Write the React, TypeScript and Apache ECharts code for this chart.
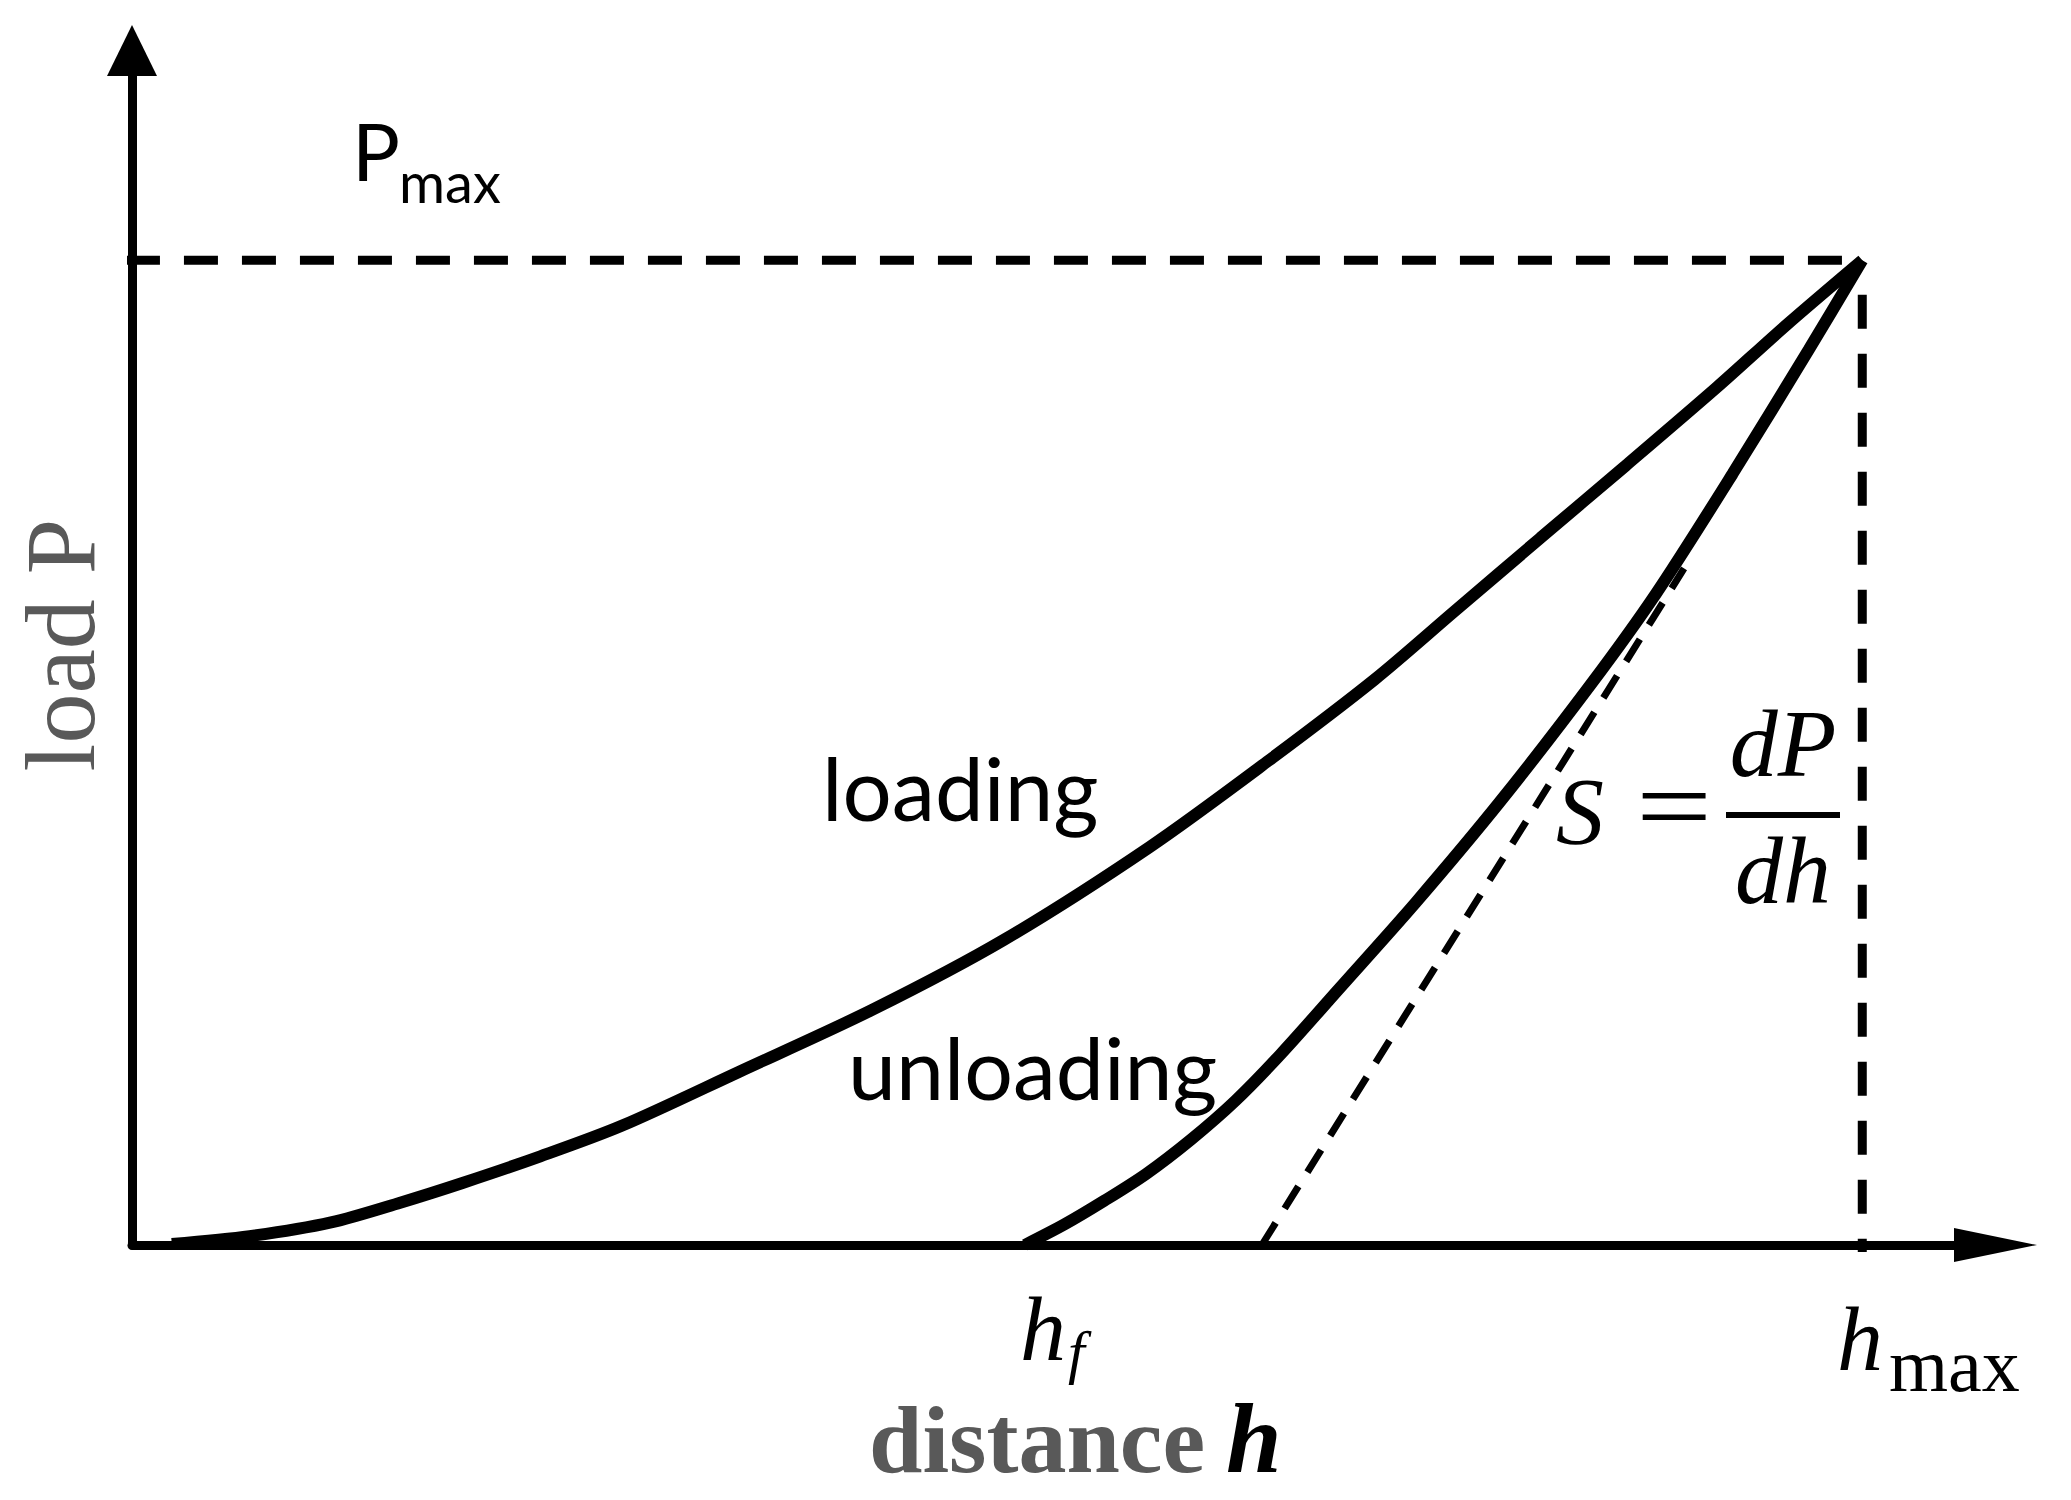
import React, { useEffect, useRef } from "react";
import * as echarts from "echarts";

// distance h (h_max = 100) and load P (P_max = 100)
const loadingH = [2.3, 6.8, 11.5, 15.5, 19.1, 23.6, 28.3, 35.1, 42.8, 50.4, 58.8, 65.7, 71.8, 76.4, 81.4, 86.3, 91.6, 95.6, 100];
const loadingP = [0.1, 0.9, 2.3, 4.3, 6.3, 9.0, 12.1, 17.6, 23.9, 31.0, 40.4, 49.2, 57.4, 64.3, 71.8, 79.1, 87.1, 93.4, 100];
const unloadingH = [51.6, 53.9, 56.2, 58.6, 61.2, 63.8, 66.4, 69.7, 74.2, 79.1, 84.3, 88.1, 92.5, 96.9, 100];
const unloadingP = [0, 2.1, 4.5, 7.2, 10.7, 14.7, 19.4, 25.9, 34.8, 45.1, 56.9, 66.2, 78.3, 90.9, 100];
const tangentH = [65.3, 89.7];
const tangentP = [0, 68.7];
const hMax = 100;
const pMax = 100;
const xAxisMax = 107.7;
const yAxisMax = 121.3;

const zip = (a: number[], b: number[]) => a.map((v, i) => [v, b[i]]);

export default function App() {
  const ref = useRef<HTMLDivElement>(null);
  useEffect(() => {
    if (!ref.current) return;
    const chart = echarts.init(ref.current, undefined, { renderer: "svg" });
    const black = "#000000";
    const grey = "#595959";
    const serif = "Liberation Serif";
    const sans = "Lato";
    const option: any = {
      animation: false,
      backgroundColor: "#ffffff",
      grid: { left: 132, right: 75.5, top: 50.5, bottom: 255 },
      xAxis: {
        type: "value",
        min: 0,
        max: xAxisMax,
        axisLine: {
          show: true,
          onZero: false,
          lineStyle: { color: black, width: 9 },
          symbol: ["none", "triangle"],
          symbolSize: [34, 83],
        },
        axisTick: { show: false },
        axisLabel: { show: false },
        splitLine: { show: false },
      },
      yAxis: {
        type: "value",
        min: 0,
        max: yAxisMax,
        axisLine: {
          show: true,
          onZero: false,
          lineStyle: { color: black, width: 9 },
          symbol: ["none", "triangle"],
          symbolSize: [50, 51],
        },
        axisTick: { show: false },
        axisLabel: { show: false },
        splitLine: { show: false },
      },
      series: [
        {
          name: "loading",
          type: "line",
          data: zip(loadingH, loadingP),
          symbol: "none",
          smooth: 0.3,
          clip: false,
          lineStyle: { color: black, width: 12 },
        },
        {
          name: "unloading",
          type: "line",
          data: zip(unloadingH, unloadingP),
          symbol: "none",
          smooth: 0.3,
          clip: false,
          lineStyle: { color: black, width: 12 },
        },
        {
          name: "tangent",
          type: "line",
          data: zip(tangentH, tangentP),
          symbol: "none",
          clip: false,
          lineStyle: { color: black, width: 7, type: [26, 17] },
        },
        {
          name: "Pmax",
          type: "line",
          data: [[-0.35, pMax], [hMax, pMax]],
          symbol: "none",
          clip: false,
          lineStyle: { color: black, width: 9, type: [34, 24] },
        },
        {
          name: "hmax",
          type: "line",
          data: [[hMax, 96.5], [hMax, -0.7]],
          symbol: "none",
          clip: false,
          lineStyle: { color: black, width: 9, type: [34, 25] },
        },
      ],
      graphic: {
        elements: [
          { type: "text", x: 352, y: 150, style: { text: "P", fontFamily: sans, fontSize: 80, fill: black, align: "left", verticalAlign: "middle" } },
          { type: "text", x: 399, y: 181, style: { text: "max", fontFamily: sans, fontSize: 56, fill: black, align: "left", verticalAlign: "middle" } },
          { type: "text", x: 822, y: 787, style: { text: "loading", fontFamily: sans, fontSize: 87, fill: black, align: "left", verticalAlign: "middle" } },
          { type: "text", x: 848, y: 1066, style: { text: "unloading", fontFamily: sans, fontSize: 86, fill: black, align: "left", verticalAlign: "middle" } },
          { type: "text", x: 60, y: 645, rotation: Math.PI / 2, style: { text: "load P", fontFamily: serif, fontSize: 100, fill: grey, align: "center", verticalAlign: "middle" } },
          { type: "text", x: 869, y: 1439, style: { text: "distance", fontFamily: serif, fontSize: 96, fontWeight: "bold", fill: grey, align: "left", verticalAlign: "middle" } },
          { type: "text", x: 1226, y: 1438, style: { text: "h", fontFamily: serif, fontSize: 100, fontWeight: "bold", fontStyle: "italic", fill: black, align: "left", verticalAlign: "middle" } },
          { type: "text", x: 1020, y: 1329, style: { text: "h", fontFamily: serif, fontSize: 92, fontStyle: "italic", fill: black, align: "left", verticalAlign: "middle" } },
          { type: "text", x: 1068, y: 1352, style: { text: "f", fontFamily: serif, fontSize: 60, fontStyle: "italic", fill: black, align: "left", verticalAlign: "middle" } },
          { type: "text", x: 1837, y: 1339, style: { text: "h", fontFamily: serif, fontSize: 92, fontStyle: "italic", fill: black, align: "left", verticalAlign: "middle" } },
          { type: "text", x: 1889, y: 1365, style: { text: "max", fontFamily: serif, fontSize: 76, fill: black, align: "left", verticalAlign: "middle" } },
          { type: "text", x: 1556, y: 811, style: { text: "S", fontFamily: serif, fontSize: 96, fontStyle: "italic", fill: black, align: "left", verticalAlign: "middle" } },
          { type: "text", x: 1636, y: 805, scaleX: 1.25, style: { text: "=", fontFamily: serif, fontSize: 108, fill: black, align: "left", verticalAlign: "middle" } },
          { type: "text", x: 1783, y: 743, style: { text: "dP", fontFamily: serif, fontSize: 96, fontStyle: "italic", fill: black, align: "center", verticalAlign: "middle" } },
          { type: "text", x: 1783, y: 870, style: { text: "dh", fontFamily: serif, fontSize: 96, fontStyle: "italic", fill: black, align: "center", verticalAlign: "middle" } },
          { type: "line", shape: { x1: 1726, y1: 815, x2: 1840, y2: 815 }, style: { stroke: black, lineWidth: 6 } },
        ],
      },
    };
    chart.setOption(option);
    return () => chart.dispose();
  }, []);
  return (
    <div
      ref={ref}
      style={{ position: "absolute", left: 0, top: 0, width: 2071, height: 1500 }}
    />
  );
}
